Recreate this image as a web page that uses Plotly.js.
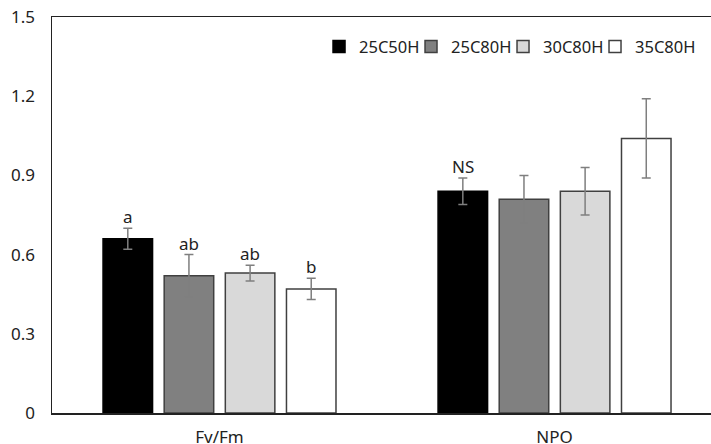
<!DOCTYPE html>
<html><head><meta charset="utf-8">
<script src="https://cdn.plot.ly/plotly-3.0.1.min.js"></script>
<style>html,body{margin:0;padding:0;background:#fff}</style>
</head><body><div id="chart" style="width:711px;height:444px"></div>
<script>
var categories = ['Fv/Fm', 'NPO'];
var seriesNames = ['25C50H', '25C80H', '30C80H', '35C80H'];
var v25C50H = [0.66, 0.84];
var v25C80H = [0.52, 0.81];
var v30C80H = [0.53, 0.84];
var v35C80H = [0.47, 1.04];
var e25C50H = [0.04, 0.05];
var e25C80H = [0.08, 0.09];
var e30C80H = [0.03, 0.09];
var e35C80H = [0.04, 0.15];
var letters25C50H = ['a', 'NS'];
var letters25C80H = ['ab', ''];
var letters30C80H = ['ab', ''];
var letters35C80H = ['b', ''];
var yTicks = [0, 0.3, 0.6, 0.9, 1.2, 1.5];
var yTickText = ['0', '0.3', '0.6', '0.9', '1.2', '1.5'];

var values = [v25C50H, v25C80H, v30C80H, v35C80H];
var errors = [e25C50H, e25C80H, e30C80H, e35C80H];
var letters = [letters25C50H, letters25C80H, letters30C80H, letters35C80H];
var fills = ['#000000', '#808080', '#d9d9d9', '#ffffff'];
var lines = ['#000000', '#404040', '#404040', '#404040'];
var legendX = [0.4052, 0.5448, 0.6844, 0.8240];
var legendIds = ['legend', 'legend2', 'legend3', 'legend4'];

var font = 'Noto Sans, Open Sans, DejaVu Sans, sans-serif';
var bargap = 0.27;
var traces = values.map(function (v, i) {
  return {
    type: 'bar', name: seriesNames[i], x: categories, y: v, legend: legendIds[i],
    marker: {color: fills[i], line: {color: lines[i], width: 1.5}},
    error_y: {type: 'data', array: errors[i], visible: true, color: '#7f7f7f', thickness: 1.5, width: 4.5}
  };
});

var annotations = [];
var slot = (1 - bargap) / values.length;
letters.forEach(function (ls, i) {
  ls.forEach(function (t, c) {
    if (!t) return;
    annotations.push({
      x: c + (i - (values.length - 1) / 2) * slot, xref: 'x',
      y: values[i][c] + errors[i][c], yref: 'y',
      text: t, showarrow: false, yanchor: 'bottom', yshift: -2,
      font: {family: font, size: 17, color: '#222'}
    });
  });
});

var layout = {
  width: 711, height: 444,
  margin: {l: 52, r: 0, t: 17, b: 31},
  paper_bgcolor: '#fff', plot_bgcolor: '#fff',
  barmode: 'group', bargap: bargap, bargroupgap: 0.19,
  font: {family: font, size: 17, color: '#222'},
  showlegend: true,
  xaxis: {type: 'category', range: [-0.5, 1.467], showline: true, linecolor: '#222', linewidth: 1.5,
          mirror: true, ticks: '', showgrid: false, zeroline: false, ticklabelstandoff: 8,
          automargin: false, tickfont: {family: font, size: 17, color: '#222'}},
  yaxis: {range: [0, 1.5], tickvals: yTicks, ticktext: yTickText,
          showline: true, linecolor: '#222', linewidth: 1.5, ticks: '', showgrid: false, zeroline: false,
          automargin: false, ticklabelstandoff: 12, tickfont: {family: font, size: 17, color: '#222'}},
  annotations: annotations
};
legendIds.forEach(function (id, i) {
  layout[id] = {orientation: 'h', x: legendX[i], xanchor: 'left', y: 0.925, yanchor: 'middle',
                font: {family: font, size: 16.5, color: '#222'}, bgcolor: 'rgba(0,0,0,0)'};
});
Plotly.newPlot('chart', traces, layout, {displayModeBar: false, staticPlot: true});
</script></body></html>
